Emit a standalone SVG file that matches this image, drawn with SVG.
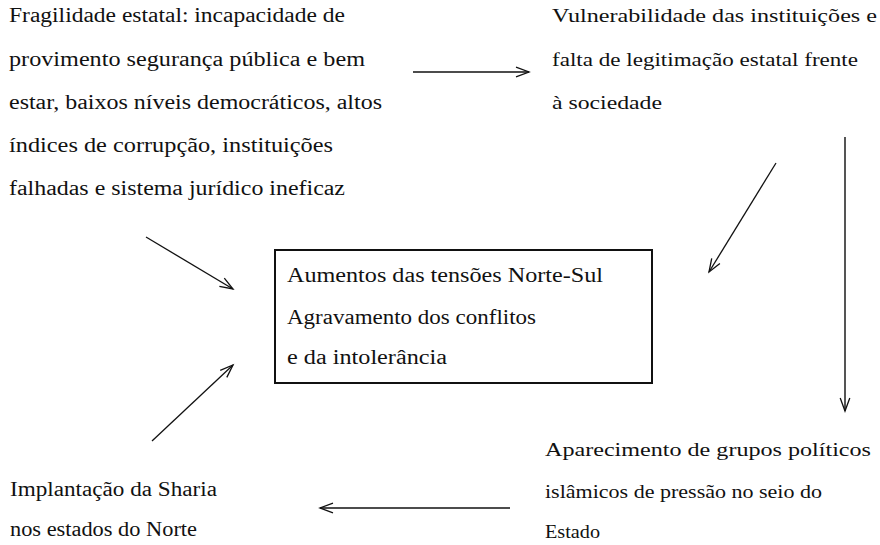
<svg xmlns="http://www.w3.org/2000/svg" width="880" height="545" viewBox="0 0 880 545" font-family="'Liberation Serif', 'DejaVu Serif', serif" font-size="20">
<style>
text{fill:#111}
.c{fill:none;stroke:#111;stroke-width:1.3}
.v{fill:none;stroke:#555;stroke-width:2}
.box{fill:#fff;stroke:#111;stroke-width:2}
</style>
<defs>
<marker id="ah" markerUnits="userSpaceOnUse" markerWidth="20" markerHeight="14" viewBox="-15 -7 16 14" refX="0" refY="0" orient="auto">
<path d="M-13,-4.8 L0,0 L-13,4.8" fill="none" stroke="#111" stroke-width="1.3"/>
</marker>
</defs>
<g id="n1">
<text x="9" y="22" textLength="336" lengthAdjust="spacingAndGlyphs">Fragilidade estatal: incapacidade de</text>
<text x="9" y="66" textLength="356" lengthAdjust="spacingAndGlyphs">provimento segurança pública e bem</text>
<text x="9" y="109" textLength="373" lengthAdjust="spacingAndGlyphs">estar, baixos níveis democráticos, altos</text>
<text x="9" y="152" textLength="324" lengthAdjust="spacingAndGlyphs">índices de corrupção, instituições</text>
<text x="9" y="195" textLength="336" lengthAdjust="spacingAndGlyphs">falhadas e sistema jurídico ineficaz</text>
</g>
<g id="n2" font-size="18">
<text x="552" y="22" textLength="325" lengthAdjust="spacingAndGlyphs">Vulnerabilidade das instituições e</text>
<text x="552" y="66" textLength="306" lengthAdjust="spacingAndGlyphs">falta de legitimação estatal frente</text>
<text x="552" y="109" textLength="110" lengthAdjust="spacingAndGlyphs">à sociedade</text>
</g>
<g id="n3">
<rect class="box" x="275" y="250" width="377" height="133"/>
<text x="287" y="282" textLength="316" lengthAdjust="spacingAndGlyphs">Aumentos das tensões Norte-Sul</text>
<text x="287" y="324" textLength="249" lengthAdjust="spacingAndGlyphs">Agravamento dos conflitos</text>
<text x="287" y="364" textLength="160" lengthAdjust="spacingAndGlyphs">e da intolerância</text>
</g>
<g id="n4" font-size="19">
<text x="545" y="456" textLength="326" lengthAdjust="spacingAndGlyphs">Aparecimento de grupos políticos</text>
<text x="545" y="498" textLength="277" lengthAdjust="spacingAndGlyphs">islâmicos de pressão no seio do</text>
<text x="545" y="538" textLength="55" lengthAdjust="spacingAndGlyphs">Estado</text>
</g>
<g id="n5">
<text x="10" y="496" textLength="207" lengthAdjust="spacingAndGlyphs">Implantação da Sharia</text>
<text x="10" y="536" textLength="187" lengthAdjust="spacingAndGlyphs">nos estados do Norte</text>
</g>
<g id="connectors">
<line class="c" x1="413" y1="72" x2="529" y2="72" marker-end="url(#ah)"/>
<line class="c" x1="776" y1="163" x2="709" y2="272" marker-end="url(#ah)"/>
<line class="v" x1="845" y1="137" x2="845" y2="411" marker-end="url(#ah)"/>
<line class="c" x1="510" y1="508" x2="320" y2="508" marker-end="url(#ah)"/>
<line class="c" x1="146" y1="237" x2="233" y2="289" marker-end="url(#ah)"/>
<line class="c" x1="152" y1="441" x2="233" y2="365" marker-end="url(#ah)"/>
</g>
</svg>
